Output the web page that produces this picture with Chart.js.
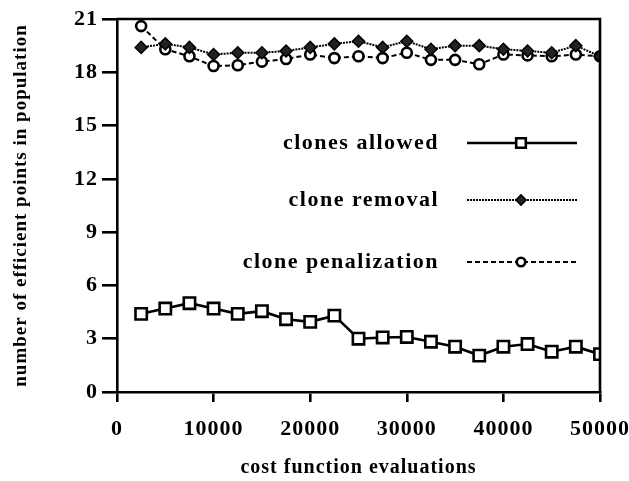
<!DOCTYPE html>
<html>
<head>
<meta charset="utf-8">
<script src="https://cdn.jsdelivr.net/npm/chart.js@4.4.0/dist/chart.umd.min.js"></script>
<style>
html,body{margin:0;padding:0;background:#fff;}
#wrap{width:629px;height:481px;position:relative;}
</style>
</head>
<body>
<div id="wrap"><canvas id="c" width="629" height="481"></canvas></div>
<script>
const evaluations = [2500, 5000, 7500, 10000, 12500, 15000, 17500, 20000, 22500, 25000,
                     27500, 30000, 32500, 35000, 37500, 40000, 42500, 45000, 47500, 50000];
const clonesAllowed = [4.4, 4.7, 5.0, 4.7, 4.4, 4.55, 4.1, 3.95, 4.3, 3.0,
                       3.07, 3.1, 2.83, 2.55, 2.05, 2.55, 2.7, 2.27, 2.55, 2.13];
const cloneRemoval = [19.4, 19.6, 19.4, 19.0, 19.1, 19.1, 19.2, 19.4, 19.6, 19.75,
                      19.4, 19.75, 19.3, 19.5, 19.5, 19.3, 19.2, 19.1, 19.5, 18.9];
const clonePenalization = [20.6, 19.3, 18.9, 18.35, 18.4, 18.6, 18.75, 19.0, 18.8, 18.9,
                           18.8, 19.1, 18.7, 18.7, 18.45, 19.0, 18.95, 18.9, 19.0, 18.9];
const seriesNames = ['clones allowed', 'clone removal', 'clone penalization'];
const xTicks = [0, 10000, 20000, 30000, 40000, 50000];
const yTicks = [0, 3, 6, 9, 12, 15, 18, 21];
const xTitle = 'cost function evaluations';
const yTitle = 'number of efficient points in population';

const SERIF = '"Liberation Serif", "DejaVu Serif", serif';
const styles = [
  {borderDash: [], borderWidth: 2.6, pointStyle: 'rect', pointRadius: 8, pointBackgroundColor: '#fff', pointBorderWidth: 2.6},
  {borderDash: [2, 1], borderWidth: 2, pointStyle: 'rectRot', pointRadius: 6, pointBackgroundColor: '#222', pointBorderWidth: 1.5},
  {borderDash: [5, 3], borderWidth: 2, pointStyle: 'circle', pointRadius: 5, pointBackgroundColor: '#fff', pointBorderWidth: 2.6}
];
const seriesData = [clonesAllowed, cloneRemoval, clonePenalization];

const datasets = seriesData.map((arr, i) => Object.assign({
  label: seriesNames[i],
  data: arr.map((v, j) => ({x: evaluations[j], y: v})),
  borderColor: '#000',
  pointBorderColor: '#000',
  pointHoverRadius: styles[i].pointRadius,
  tension: 0,
  fill: false
}, styles[i]));

const frameAndLegend = {
  id: 'frameAndLegend',
  beforeDraw(chart) {
    chart.ctx.letterSpacing = '1px';
  },
  afterDraw(chart) {
    const ctx = chart.ctx;
    const a = chart.chartArea;
    ctx.save();
    ctx.strokeStyle = '#000';
    ctx.lineWidth = 2.6;
    ctx.beginPath();
    ctx.moveTo(a.left, a.top);
    ctx.lineTo(a.right, a.top);
    ctx.lineTo(a.right, a.bottom);
    ctx.stroke();
    // legend
    const rows = [143, 200, 262];
    ctx.font = 'bold 22px ' + SERIF;
    ctx.letterSpacing = '1.5px';
    ctx.fillStyle = '#000';
    ctx.textAlign = 'right';
    ctx.textBaseline = 'middle';
    rows.forEach((y, i) => {
      const s = styles[i];
      ctx.fillText(seriesNames[i], 439, y);
      ctx.beginPath();
      ctx.setLineDash(s.borderDash);
      ctx.lineWidth = s.borderWidth;
      ctx.moveTo(467, y);
      ctx.lineTo(577, y);
      ctx.stroke();
      ctx.setLineDash([]);
      ctx.fillStyle = s.pointBackgroundColor;
      ctx.lineWidth = s.pointBorderWidth;
      Chart.helpers.drawPoint(ctx, {pointStyle: s.pointStyle, radius: s.pointRadius * 0.85, borderWidth: s.pointBorderWidth, rotation: 0}, 521, y);
      ctx.fillStyle = '#000';
    });
    ctx.restore();
  }
};

new Chart(document.getElementById('c'), {
  type: 'line',
  data: {datasets},
  options: {
    responsive: false,
    animation: false,
    devicePixelRatio: 1,
    layout: {padding: {left: 0, right: 29, top: 19, bottom: 0}},
    plugins: {legend: {display: false}, tooltip: {enabled: false}},
    scales: {
      x: {
        type: 'linear', min: 0, max: 50000,
        afterBuildTicks(s) { s.ticks = xTicks.map(v => ({value: v})); },
        afterFit(s) { s.height = 89; s.paddingLeft = 0; s.paddingRight = 0; },
        ticks: {color: '#000', font: {family: SERIF, size: 22, weight: 'bold'}, padding: 14, maxRotation: 0,
                callback: v => String(v)},
        grid: {display: true, drawOnChartArea: false, drawTicks: true, tickLength: 10, color: '#000', lineWidth: 2.6},
        border: {display: true, color: '#000', width: 2.6},
        title: {display: true, text: xTitle, color: '#000', font: {family: SERIF, size: 20, weight: 'bold'}, padding: {top: 0, bottom: 1}}
      },
      y: {
        type: 'linear', min: 0, max: 21,
        afterBuildTicks(s) { s.ticks = yTicks.map(v => ({value: v})); },
        afterFit(s) { s.width = 117; s.paddingTop = 0; s.paddingBottom = 0; },
        ticks: {color: '#000', font: {family: SERIF, size: 22, weight: 'bold'}, padding: 4},
        grid: {display: true, drawOnChartArea: false, drawTicks: true, tickLength: 15, color: '#000', lineWidth: 2.6},
        border: {display: true, color: '#000', width: 2.6},
        title: {display: true, text: yTitle, color: '#000', font: {family: SERIF, size: 19, weight: 'bold'}, padding: {top: 10, bottom: 0}}
      }
    }
  },
  plugins: [frameAndLegend]
});
</script>
</body>
</html>
